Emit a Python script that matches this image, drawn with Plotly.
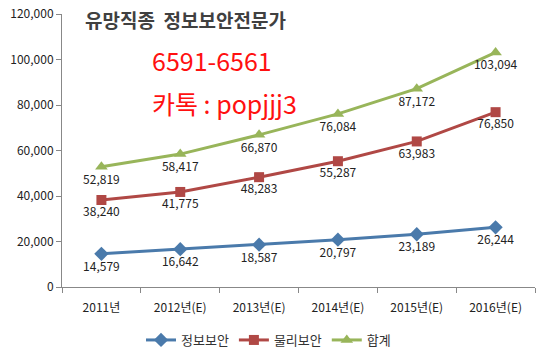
import plotly.graph_objects as go

categories = ["2011년", "2012년(E)", "2013년(E)", "2014년(E)", "2015년(E)", "2016년(E)"]
info_sec = [14579, 16642, 18587, 20797, 23189, 26244]
phys_sec = [38240, 41775, 48283, 55287, 63983, 76850]
total = [52819, 58417, 66870, 76084, 87172, 103094]
series_names = ["정보보안", "물리보안", "합계"]

FONT = "Noto Sans CJK KR, Open Sans, sans-serif"

fig = go.Figure()
specs = [
    (info_sec, series_names[0], "#4A7AAB", "diamond", 11),
    (phys_sec, series_names[1], "#B04845", "square", 10),
    (total, series_names[2], "#98B55A", "triangle-up", 11),
]
for vals, name, color, sym, sz in specs:
    fig.add_trace(go.Scatter(
        x=categories, y=vals, name=name, mode="lines+markers+text",
        line=dict(color=color, width=3),
        marker=dict(symbol=sym, size=sz, color=color),
        text=[f"{v:,}" for v in vals], textposition="bottom center",
        textfont=dict(size=12, color="#222222", family=FONT),
        cliponaxis=False,
    ))

fig.update_layout(
    width=548, height=352,
    margin=dict(l=62, r=13, t=14, b=65, autoexpand=False),
    paper_bgcolor="white", plot_bgcolor="white",
    font=dict(family=FONT, size=12, color="#222222"),
    showlegend=True,
    legend=dict(orientation="h", x=0.49, xref="container", xanchor="center",
                y=(352 - 340) / 352, yref="container", yanchor="middle",
                font=dict(size=13, color="#333333"), itemwidth=30, tracegroupgap=0),
    xaxis=dict(type="category", showgrid=False, showline=True, linecolor="#888888",
               ticks="outside", ticklen=5, tickcolor="#888888", tickson="boundaries",
               ticklabelstandoff=10,
               tickfont=dict(size=12, color="#222222"), range=[-0.5, 5.5]),
    yaxis=dict(range=[0, 120000], dtick=20000, tickformat=",", showgrid=False,
               showline=True, linecolor="#888888", ticks="outside", ticklen=5,
               tickcolor="#888888", zeroline=False,
               tickfont=dict(size=12, color="#222222")),
)
W, H = 548 - 62 - 13, 352 - 14 - 65
def px(x, y):
    return (x - 62) / W, (352 - 65 - y) / H

a, b = px(83, 19)
fig.add_annotation(text="<b>유망직종  정보보안전문가</b>", x=a, y=b, xref="paper", yref="paper",
                   xanchor="left", yanchor="middle", showarrow=False,
                   font=dict(size=19, color="#404040", family=FONT))
for txt, (x, y), size in [("6591-6561", (150, 60), 25), ("카톡 : popjjj3", (150, 103), 25)]:
    a, b = px(x, y)
    fig.add_annotation(text=txt, x=a, y=b, xref="paper", yref="paper", xanchor="left",
                       yanchor="middle", showarrow=False,
                       font=dict(size=size, color="#FF1010", family=FONT))

fig.write_html("out.html")
